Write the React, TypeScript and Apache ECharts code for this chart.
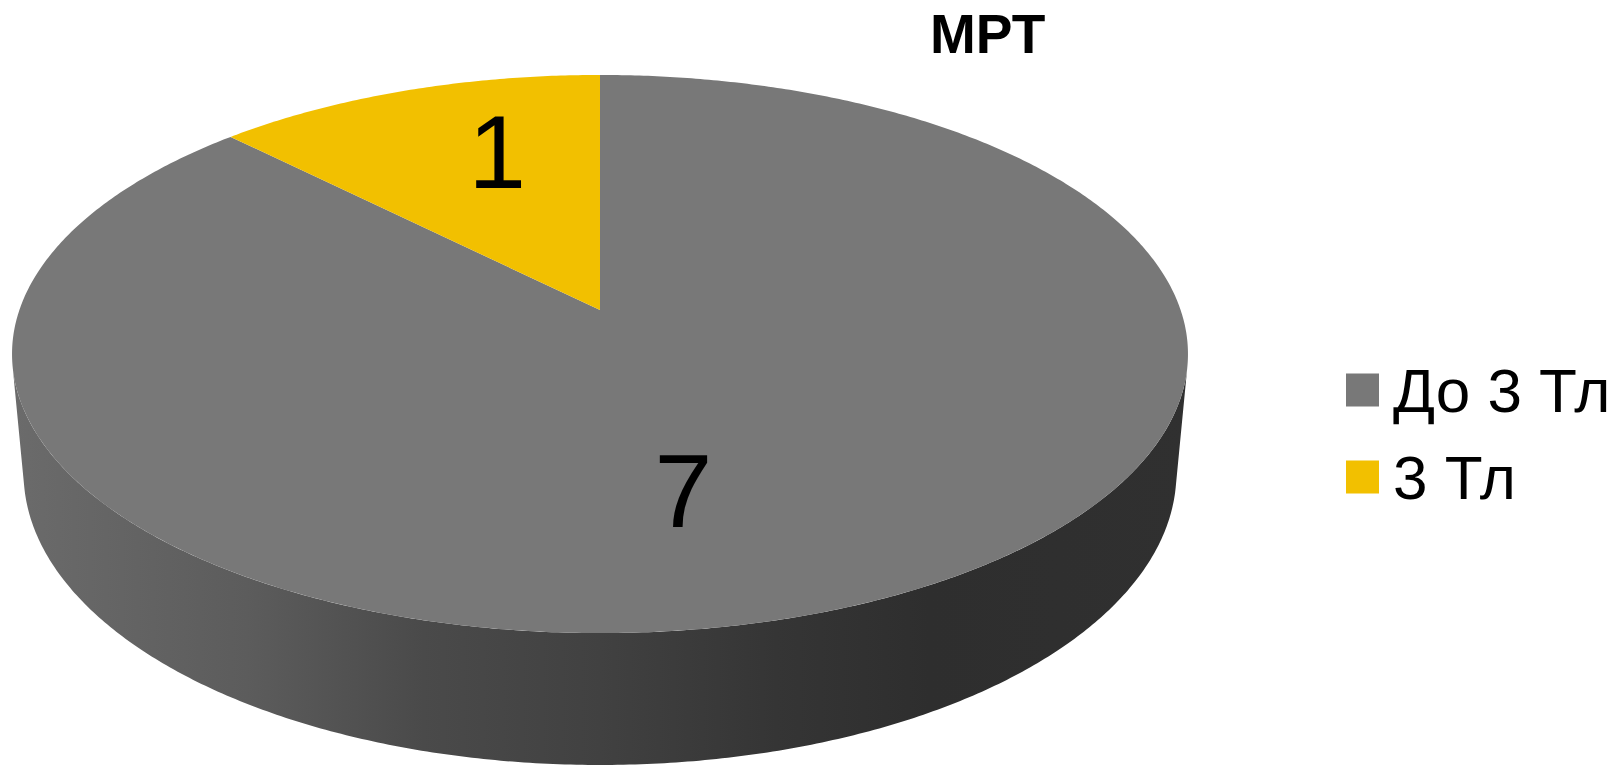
import React, { useEffect, useRef } from "react";
import * as echarts from "echarts";

const TITLE = "МРТ";
const CATEGORIES = ["До 3 Тл", "3 Тл"];
const VALUES = [7, 1];
const COLORS = ["#787878", "#F2C000"];

// 3D projection constants (camera looking down at the disc)
const CX = 600;
const CY = 310;
const FOCAL = 3252.6;
const DIST = 5.602;
const SIN_A = 0.4687;
const COS_A = 0.8834;
const THICK = 0.234;
const LABEL_R = 0.65;
const LABEL_OFFSETS = [
  [-76, 0],
  [29, -9],
];
const FONT = "Arial";

function project(x: number, y: number, z: number): number[] {
  const yc = y * COS_A - z * SIN_A;
  const depth = DIST - y * SIN_A - z * COS_A;
  return [CX + (FOCAL * x) / depth, CY - (FOCAL * yc) / depth];
}

function hexToRgb(hex: string) {
  const h = hex.replace("#", "");
  return [
    parseInt(h.slice(0, 2), 16),
    parseInt(h.slice(2, 4), 16),
    parseInt(h.slice(4, 6), 16),
  ];
}

function shade(hex: string, k: number) {
  const [r, g, b] = hexToRgb(hex);
  return `rgb(${Math.round(r * k)},${Math.round(g * k)},${Math.round(b * k)})`;
}

const SIDE_SHADES = [
  [0, 0.89],
  [0.2, 0.77],
  [0.35, 0.62],
  [0.5, 0.54],
  [0.65, 0.44],
  [0.78, 0.38],
  [1, 0.4],
];

export default function App() {
  const ref = useRef<HTMLDivElement>(null);
  useEffect(() => {
    document.body.style.margin = "0";
    const chart = echarts.init(ref.current!, null, { renderer: "svg" });
    const total = VALUES.reduce((a, b) => a + b, 0);
    const starts: number[] = [];
    let acc = 0;
    VALUES.forEach((v) => {
      starts.push(acc);
      acc += v;
    });
    const START = -Math.PI / 2;
    const phiS = Math.asin(1 / (DIST * COS_A));
    const frontA = phiS;
    const frontB = Math.PI - phiS;
    const STEP = Math.PI / 360;
    const gradL = CX - (FOCAL / DIST) * 1.013;
    const gradR = CX + (FOCAL / DIST) * 1.013;

    const arc = (a0: number, a1: number, y: number) => {
      const pts: number[][] = [];
      const n = Math.max(2, Math.ceil((a1 - a0) / STEP));
      for (let i = 0; i <= n; i++) {
        const a = a0 + ((a1 - a0) * i) / n;
        pts.push(project(Math.cos(a), y, Math.sin(a)));
      }
      return pts;
    };

    const renderItem = (params: any, api: any) => {
      const i = params.dataIndex;
      const v = api.value(1);
      const a0 = START + (2 * Math.PI * starts[i]) / total;
      const a1 = a0 + (2 * Math.PI * v) / total;
      const children: any[] = [];
      for (let k = -1; k <= 1; k++) {
        const s0 = Math.max(a0 + 2 * Math.PI * k, frontA);
        const s1 = Math.min(a1 + 2 * Math.PI * k, frontB);
        if (s1 > s0) {
          const top = arc(s0, s1, 0);
          const bot = arc(s0, s1, -THICK).reverse();
          children.push({
            type: "polygon",
            z2: 1,
            shape: { points: top.concat(bot) },
            style: {
              fill: new echarts.graphic.LinearGradient(
                gradL,
                0,
                gradR,
                0,
                SIDE_SHADES.map(([o, s]) => ({ offset: o, color: shade(COLORS[i], s) })),
                true
              ),
            },
          });
        }
      }
      children.push({
        type: "polygon",
        z2: 10,
        shape: { points: [project(0, 0, 0)].concat(arc(a0, a1, 0)) },
        style: { fill: COLORS[i] },
      });
      const mid = (a0 + a1) / 2;
      const p = project(LABEL_R * Math.cos(mid), 0, LABEL_R * Math.sin(mid));
      children.push({
        type: "text",
        z2: 20,
        x: p[0] + LABEL_OFFSETS[i][0],
        y: p[1] + LABEL_OFFSETS[i][1],
        style: {
          text: String(v),
          fontSize: 104,
          fontFamily: FONT,
          fill: "#000",
          align: "center",
          verticalAlign: "middle",
        },
      });
      return { type: "group", children };
    };

    chart.setOption({
      animation: false,
      backgroundColor: "#fff",
      title: {
        text: TITLE,
        left: 930,
        top: 6,
        padding: 0,
        textStyle: { fontSize: 55, fontWeight: "bold", fontFamily: FONT, color: "#000" },
      },
      legend: {
        orient: "vertical",
        left: 1346,
        top: 359,
        padding: 0,
        itemWidth: 33,
        itemHeight: 33,
        itemGap: 25,
        icon: "rect",
        selectedMode: false,
        data: CATEGORIES,
        textStyle: {
          fontSize: 62,
          lineHeight: 62,
          fontFamily: FONT,
          color: "#000",
          padding: [0, 0, 0, 9],
        },
      },
      series: [
        {
          type: "custom",
          coordinateSystem: "none",
          silent: true,
          renderItem,
          data: VALUES.map((v, i) => [i, v]),
        },
        {
          type: "pie",
          name: "legend",
          center: [-3000, -3000],
          radius: 1,
          silent: true,
          label: { show: false },
          labelLine: { show: false },
          data: CATEGORIES.map((n, i) => ({
            name: n,
            value: VALUES[i],
            itemStyle: { color: COLORS[i] },
          })),
        },
      ],
    });
    return () => chart.dispose();
  }, []);
  return <div ref={ref} style={{ width: 1621, height: 766 }} />;
}
